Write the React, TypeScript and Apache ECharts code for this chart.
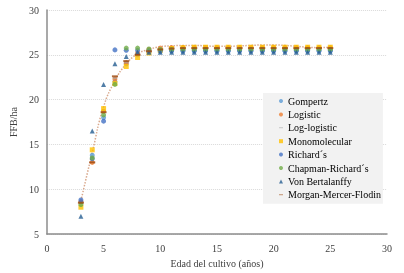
import React, { useEffect, useRef } from "react";
import * as echarts from "echarts";

const years = [3, 4, 5, 6, 7, 8, 9, 10, 11, 12, 13, 14, 15, 16, 17, 18, 19, 20, 21, 22, 23, 24, 25];

const gompertz = [8.6, 13.8, 18.0, 22.0, 24.0, 25.0, 25.3, 25.4, 25.45, 25.45, 25.45, 25.45, 25.45, 25.45, 25.45, 25.45, 25.45, 25.45, 25.45, 25.45, 25.45, 25.45, 25.45];
const logistic = [8.6, 13.0, 18.7, 22.3, 24.1, 25.2, 25.6, 25.75, 25.8, 25.8, 25.8, 25.8, 25.8, 25.8, 25.8, 25.8, 25.8, 25.8, 25.8, 25.8, 25.8, 25.8, 25.8];
const logLogistic = [8.5, 13.6, 18.8, 22.4, 24.2, 25.2, 25.55, 25.7, 25.75, 25.75, 25.75, 25.75, 25.75, 25.75, 25.75, 25.75, 25.75, 25.75, 25.75, 25.75, 25.75, 25.75, 25.75];
const monomolecular = [8.0, 14.4, 19.0, 21.8, 23.7, 24.7, 25.2, 25.5, 25.7, 25.8, 25.85, 25.85, 25.85, 25.85, 25.85, 25.85, 25.85, 25.85, 25.85, 25.85, 25.85, 25.85, 25.85];
const richards = [8.8, 13.4, 17.6, 25.55, 25.5, 25.5, 25.45, 25.45, 25.45, 25.45, 25.45, 25.45, 25.45, 25.45, 25.45, 25.45, 25.45, 25.45, 25.45, 25.45, 25.45, 25.45, 25.45];
const chapmanRichards = [8.3, 13.5, 18.3, 21.7, 25.75, 25.75, 25.65, 25.6, 25.6, 25.6, 25.6, 25.6, 25.6, 25.6, 25.6, 25.6, 25.6, 25.6, 25.6, 25.6, 25.6, 25.6, 25.6];
const vonBertalanffy = [7.0, 16.5, 21.7, 24.0, 24.8, 25.3, 25.3, 25.3, 25.3, 25.3, 25.3, 25.3, 25.3, 25.3, 25.3, 25.3, 25.3, 25.3, 25.3, 25.3, 25.3, 25.3, 25.3];
const mmf = [8.5, 13.0, 18.6, 22.6, 24.3, 25.0, 25.4, 25.6, 25.7, 25.75, 25.75, 25.75, 25.75, 25.75, 25.75, 25.75, 25.75, 25.75, 25.75, 25.75, 25.75, 25.75, 25.75];
const trend = [8.7, 14.1, 19.2, 22.1, 24.0, 25.1, 25.6, 25.9, 26.0, 26.05, 26.05, 26.0, 25.95, 25.95, 26.0, 26.05, 26.1, 26.1, 26.05, 25.95, 25.85, 25.8, 25.85];

const seriesNames = ["Gompertz", "Logistic", "Log-logistic", "Monomolecular", "Richard´s", "Chapman-Richard´s", "Von Bertalanffy", "Morgan-Mercer-Flodin"];
const xTicks = [0, 5, 10, 15, 20, 25, 30];
const yTicks = [5, 10, 15, 20, 25, 30];

const FONT = "'Liberation Serif', 'Times New Roman', serif";
const DASH = "path://M0,0H10V1.8H0Z";

export default function App() {
  const ref = useRef<HTMLDivElement>(null);
  useEffect(() => {
    if (!ref.current) return;
    const chart = echarts.init(ref.current, undefined, { renderer: "svg" });
    const pair = (vals: number[]) => years.map((y, i) => [y, vals[i]]);
    const specs = [
      { name: seriesNames[0], data: gompertz, color: "#5B9BD5", symbol: "circle", icon: "circle", size: 5 },
      { name: seriesNames[1], data: logistic, color: "#ED7D31", symbol: "circle", icon: "circle", size: 5 },
      { name: seriesNames[2], data: logLogistic, color: "#A5A5A5", symbol: "rect", icon: DASH, size: [4, 1.5] },
      { name: seriesNames[3], data: monomolecular, color: "#FFC000", symbol: "rect", icon: "rect", size: 5 },
      { name: seriesNames[4], data: richards, color: "#4472C4", symbol: "circle", icon: "circle", size: 5 },
      { name: seriesNames[5], data: chapmanRichards, color: "#70AD47", symbol: "circle", icon: "circle", size: 5 },
      { name: seriesNames[6], data: vonBertalanffy, color: "#255E91", symbol: "triangle", icon: "triangle", size: 5 },
      { name: seriesNames[7], data: mmf, color: "#9E480E", symbol: "rect", icon: DASH, size: [6, 2] },
    ];
    chart.setOption({
      animation: false,
      grid: { left: 41, right: 17, top: 10, bottom: 32 },
      xAxis: {
        type: "value",
        min: xTicks[0],
        max: xTicks[xTicks.length - 1],
        interval: 5,
        name: "Edad del cultivo (años)",
        nameLocation: "middle",
        nameGap: 22,
        nameTextStyle: { fontFamily: FONT, fontSize: 10, color: "#404040" },
        axisLine: { lineStyle: { color: "#8C8C8C", width: 1.5 } },
        axisTick: { show: false },
        splitLine: { show: false },
        axisLabel: { fontFamily: FONT, fontSize: 10, color: "#404040", margin: 9 },
      },
      yAxis: {
        type: "value",
        min: yTicks[0],
        max: yTicks[yTicks.length - 1],
        interval: 5,
        name: "FFB/ha",
        nameLocation: "middle",
        nameGap: 21,
        nameTextStyle: { fontFamily: FONT, fontSize: 10, color: "#404040" },
        axisLine: { show: true, lineStyle: { color: "#8C8C8C", width: 1.5 } },
        axisTick: { show: false },
        splitLine: { lineStyle: { color: "#D9D9D9", type: "dotted", width: 1 } },
        axisLabel: { fontFamily: FONT, fontSize: 10, color: "#404040", margin: 8 },
      },
      legend: {
        orient: "vertical",
        left: 263,
        top: 93,
        backgroundColor: "#F2F2F2",
        padding: [2, 2, 3, 16],
        itemWidth: 4,
        itemHeight: 4,
        itemGap: 1.4,
        symbolKeepAspect: true,
        data: specs.map((s) => ({ name: s.name, icon: s.icon })),
        textStyle: { fontFamily: FONT, fontSize: 10, color: "#000", lineHeight: 12 },
      },
      series: [
        {
          type: "line",
          name: "trend",
          data: pair(trend),
          smooth: true,
          showSymbol: false,
          symbol: "none",
          lineStyle: { color: "#D9A88C", width: 1.5, type: "dotted" },
          z: 1,
        },
        ...specs.map((s) => ({
          type: "scatter",
          name: s.name,
          data: pair(s.data),
          symbol: s.symbol,
          symbolSize: s.size,
          itemStyle: { color: s.color },
          z: 2,
        })),
      ],
    });
    return () => chart.dispose();
  }, []);
  return <div ref={ref} style={{ position: "fixed", left: 0, top: 0, width: 404, height: 273 }} />;
}
